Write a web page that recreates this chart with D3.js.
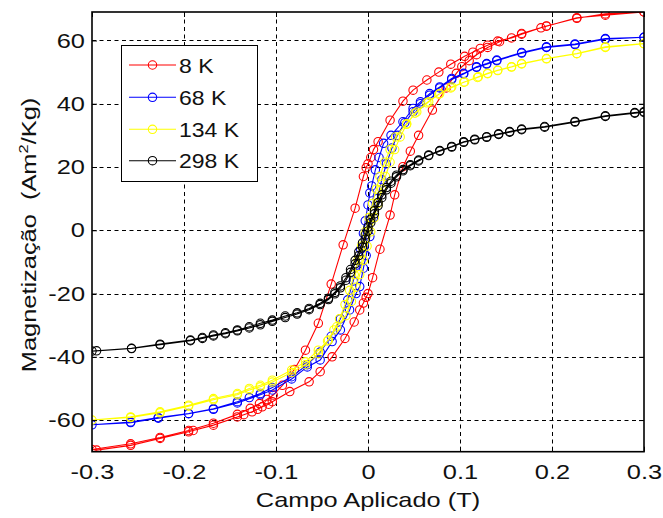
<!DOCTYPE html>
<html><head><meta charset="utf-8">
<script src="https://cdn.jsdelivr.net/npm/d3@7"></script>
<style>
body{margin:0;background:#fff}
svg text{font-family:"Liberation Sans",Arial,Helvetica,sans-serif;fill:#111}
</style>
</head><body>
<svg id="chart" width="663" height="518"></svg>
<script>
// ---- data ----
const seriesNames = ["8 K", "68 K", "134 K", "298 K"];
const seriesColors = ["#ff0000", "#0000ff", "#ffff00", "#000000"];

// 8 K : descending branch (+0.3 -> -0.3) then ascending branch (-0.3 -> +0.3)
const h8K = [0.300,0.258,0.227,0.194,0.188,0.167,0.156,0.141,0.130,0.122,0.114,0.105,0.090,0.077,0.064,0.049,0.038,0.024,0.011,0.006,0.003,0.000,-0.002,-0.005,-0.014,-0.027,-0.040,-0.054,-0.068,-0.080,-0.093,-0.103,-0.110,-0.118,-0.128,-0.142,-0.168,-0.195,-0.226,-0.258,-0.300,
  -0.295,-0.258,-0.226,-0.195,-0.190,-0.168,-0.142,-0.135,-0.126,-0.120,-0.115,-0.108,-0.104,-0.085,-0.064,-0.052,-0.039,-0.025,-0.015,-0.009,-0.005,-0.002,0.000,0.005,0.013,0.024,0.029,0.038,0.046,0.055,0.070,0.085,0.096,0.102,0.110,0.118,0.130,0.143,0.167,0.194,0.227,0.258,0.300];
const m8K = [69.0,68.0,67.2,64.5,64.0,62.0,60.8,59.8,58.5,57.5,56.3,55.0,52.5,50.0,47.5,44.3,40.8,34.8,28.0,25.5,23.0,21.0,19.8,17.0,7.0,-4.6,-17.0,-29.4,-37.9,-44.0,-49.0,-52.1,-53.5,-54.8,-56.3,-58.2,-61.0,-63.3,-65.5,-67.5,-69.3,
  -69.5,-68.0,-65.8,-63.7,-63.3,-61.6,-59.0,-58.3,-57.4,-56.6,-55.8,-55.0,-54.2,-51.0,-47.9,-44.7,-40.0,-34.2,-29.0,-25.2,-23.0,-21.2,-20.0,-15.0,-6.0,4.8,11.2,20.1,25.0,30.0,38.0,45.0,49.6,51.7,53.6,55.5,57.8,59.6,62.2,64.6,67.0,68.4,69.0];

// 68 K
const h68K = [0.300,0.258,0.225,0.194,0.167,0.140,0.129,0.118,0.104,0.091,0.078,0.067,0.057,0.049,0.038,0.025,0.017,0.012,0.008,0.004,0.002,0.000,-0.003,-0.005,-0.008,-0.012,-0.016,-0.022,-0.030,-0.040,-0.052,-0.066,-0.083,-0.104,-0.117,-0.129,-0.142,-0.168,-0.195,-0.228,-0.258,-0.300,
  -0.258,-0.228,-0.195,-0.168,-0.142,-0.117,-0.104,-0.083,-0.066,-0.052,-0.039,-0.030,-0.020,-0.013,-0.009,-0.005,-0.002,0.002,0.006,0.010,0.015,0.020,0.026,0.032,0.040,0.049,0.057,0.067,0.078,0.091,0.104,0.118,0.129,0.140,0.167,0.194,0.225,0.258,0.300];
const m68K = [61.0,60.6,58.9,58.0,56.2,53.8,52.7,51.7,49.6,48.0,45.3,43.2,40.6,38.5,34.3,30.0,27.5,23.0,19.1,14.0,11.8,8.0,3.0,-1.0,-6.0,-11.0,-16.0,-22.0,-28.0,-33.5,-38.5,-42.5,-46.3,-49.7,-51.6,-52.9,-54.2,-56.4,-57.9,-59.2,-60.6,-61.5,
  -60.8,-59.4,-58.0,-56.6,-54.6,-52.0,-50.5,-47.0,-43.2,-41.0,-35.2,-31.5,-25.2,-20.0,-17.8,-12.0,-8.0,-2.0,4.0,10.0,16.0,21.0,26.0,30.0,34.0,37.5,40.0,42.7,45.0,47.7,49.4,51.5,52.5,53.6,56.0,57.8,58.7,60.4,61.0];

// 134 K
const h134K = [0.300,0.258,0.227,0.194,0.167,0.156,0.141,0.130,0.120,0.105,0.091,0.078,0.066,0.053,0.042,0.030,0.024,0.018,0.013,0.009,0.005,0.001,-0.003,-0.007,-0.011,-0.015,-0.020,-0.025,-0.031,-0.037,-0.044,-0.054,-0.068,-0.083,-0.104,-0.117,-0.129,-0.142,-0.168,-0.195,-0.226,-0.258,-0.300,
  -0.258,-0.226,-0.195,-0.168,-0.142,-0.129,-0.117,-0.104,-0.083,-0.068,-0.054,-0.043,-0.034,-0.024,-0.018,-0.013,-0.009,-0.005,-0.001,0.003,0.007,0.011,0.015,0.019,0.024,0.029,0.035,0.042,0.051,0.064,0.077,0.090,0.104,0.119,0.130,0.141,0.156,0.167,0.194,0.227,0.258,0.300];
const m134K = [59.0,58.0,55.9,54.3,52.7,51.7,50.6,49.6,48.5,46.9,45.3,43.2,40.6,37.4,33.7,29.5,25.5,21.5,17.0,13.0,8.5,4.0,-0.5,-5.0,-9.5,-14.0,-19.0,-23.5,-28.0,-31.5,-35.0,-39.0,-42.5,-45.0,-48.0,-49.5,-50.5,-52.0,-53.6,-55.6,-57.7,-59.2,-60.0,
  -59.0,-57.4,-55.3,-53.2,-51.6,-50.0,-49.0,-47.4,-44.2,-41.6,-37.9,-34.7,-30.5,-27.0,-22.5,-18.0,-14.0,-9.5,-5.0,-0.5,4.0,8.5,13.0,17.0,21.5,25.5,29.5,33.5,37.0,40.3,43.0,45.0,46.8,48.3,49.5,50.5,51.6,52.6,54.2,55.8,57.8,59.0];

// 298 K
const h298K = [0.300,0.290,0.258,0.225,0.192,0.167,0.154,0.142,0.129,0.116,0.104,0.091,0.078,0.066,0.055,0.046,0.038,0.031,0.025,0.020,0.015,0.011,0.007,0.003,0.000,-0.003,-0.006,-0.010,-0.014,-0.019,-0.024,-0.030,-0.036,-0.043,-0.052,-0.064,-0.077,-0.090,-0.104,-0.117,-0.129,-0.142,-0.155,-0.168,-0.180,-0.193,-0.226,-0.257,-0.295,-0.300,
  -0.257,-0.226,-0.193,-0.180,-0.168,-0.155,-0.142,-0.129,-0.117,-0.104,-0.090,-0.077,-0.064,-0.052,-0.043,-0.036,-0.030,-0.024,-0.019,-0.014,-0.010,-0.006,-0.003,0.000,0.003,0.007,0.011,0.015,0.020,0.025,0.031,0.038,0.046,0.055,0.066,0.078,0.091,0.104,0.116,0.129,0.142,0.154,0.167,0.192,0.225,0.258,0.290,0.300];
const m298K = [37.5,37.2,36.2,34.4,32.8,32.0,31.2,30.5,29.6,28.8,28.0,26.5,25.2,23.8,22.2,20.7,19.2,17.4,15.5,13.5,11.2,8.8,6.2,3.5,1.0,-1.5,-4.0,-6.8,-9.5,-12.4,-15.0,-17.6,-19.6,-21.5,-23.1,-24.7,-26.1,-27.1,-28.4,-29.4,-30.5,-31.5,-32.4,-33.1,-33.9,-34.7,-36.0,-37.3,-38.1,-38.2,
  -37.4,-36.2,-34.9,-34.2,-33.4,-32.7,-31.8,-30.9,-29.9,-28.8,-27.6,-26.5,-25.1,-23.5,-21.9,-20.1,-18.2,-15.8,-13.3,-10.6,-8.0,-5.3,-2.8,-0.2,2.4,5.2,7.8,10.3,12.8,14.9,16.9,18.8,20.4,21.9,23.6,25.0,26.3,27.8,28.6,29.4,30.3,31.0,31.8,32.6,34.2,36.0,37.0,37.3];

const xTicks = [-0.3, -0.2, -0.1, 0, 0.1, 0.2, 0.3];
const xTickLabels = ["-0.3", "-0.2", "-0.1", "0", "0.1", "0.2", "0.3"];
const yTicks = [-60, -40, -20, 0, 20, 40, 60];
const yTickLabels = ["-60", "-40", "-20", "0", "20", "40", "60"];
const xLabel = "Campo Aplicado (T)";

// ---- drawing ----
const hs = [h8K, h68K, h134K, h298K];
const ms = [m8K, m68K, m134K, m298K];
const series = seriesNames.map((n, i) => ({
  name: n, color: seriesColors[i],
  pts: hs[i].map((h, j) => ({h: h, m: ms[i][j]}))
}));

const L = 92, R = 644, T = 12, B = 451.7;
const x = d3.scaleLinear().domain([-0.3, 0.3]).range([L, R]);
const y = d3.scaleLinear().domain([-70, 69]).range([B, T]);
const SX = 1.27, SY = 1.05; // wide glyphs of the reference

const svg = d3.select("#chart");
svg.append("rect").attr("width", 663).attr("height", 518).attr("fill", "#fff");

svg.append("defs").append("clipPath").attr("id", "clip")
  .append("rect").attr("x", L).attr("y", T).attr("width", R - L).attr("height", B - T);

// grid
const grid = svg.append("g").attr("stroke", "#000").attr("stroke-width", 1).attr("stroke-dasharray", "4,3.5");
grid.selectAll(".gx").data(xTicks.slice(1, -1)).enter().append("line")
  .attr("x1", d => Math.round(x(d)) + 0.5).attr("x2", d => Math.round(x(d)) + 0.5)
  .attr("y1", T).attr("y2", B);
grid.selectAll(".gy").data(yTicks).enter().append("line")
  .attr("y1", d => Math.round(y(d)) + 0.5).attr("y2", d => Math.round(y(d)) + 0.5)
  .attr("x1", L).attr("x2", R);

// series
const line = d3.line().x(d => x(d.h)).y(d => y(d.m));
const plot = svg.append("g").attr("clip-path", "url(#clip)");
series.forEach(s => {
  const g = plot.append("g");
  g.append("path").datum(s.pts).attr("d", line)
    .attr("fill", "none").attr("stroke", s.color).attr("stroke-width", 1.1);
  g.selectAll("circle").data(s.pts).enter().append("circle")
    .attr("cx", d => x(d.h)).attr("cy", d => y(d.m)).attr("r", 4.2)
    .attr("fill", "none").attr("stroke", s.color).attr("stroke-width", 1.1);
});

// axes
const fmtX = d => xTickLabels[xTicks.indexOf(d)];
const fmtY = d => yTickLabels[yTicks.indexOf(d)];
const axB = svg.append("g").attr("transform", `translate(0,${B})`)
  .call(d3.axisBottom(x).tickValues(xTicks).tickFormat(fmtX).tickSizeInner(-5).tickSizeOuter(0).tickPadding(12));
const axL = svg.append("g").attr("transform", `translate(${L},0)`)
  .call(d3.axisLeft(y).tickValues(yTicks).tickFormat(fmtY).tickSizeInner(-5).tickSizeOuter(0).tickPadding(7));
const axT = svg.append("g").attr("transform", `translate(0,${T})`)
  .call(d3.axisTop(x).tickValues(xTicks).tickFormat("").tickSizeInner(-5).tickSizeOuter(0));
const axR = svg.append("g").attr("transform", `translate(${R},0)`)
  .call(d3.axisRight(y).tickValues(yTicks).tickFormat("").tickSizeInner(-5).tickSizeOuter(0));
[axB, axL, axT, axR].forEach(a => {
  a.select(".domain").remove();
  a.selectAll("line").attr("stroke", "#000");
  a.selectAll("text").attr("font-size", 20).attr("fill", "#111")
    .style("font-family", '"Liberation Sans",Arial,sans-serif')
    .attr("transform", `scale(${SX},${SY})`);
});
axL.selectAll("text").attr("x", -7 / SX);

svg.append("rect").attr("x", L).attr("y", T).attr("width", R - L).attr("height", B - T)
  .attr("fill", "none").attr("stroke", "#000").attr("stroke-width", 1.6);

// axis labels
svg.append("text").attr("transform", `translate(${(L + R) / 2},507) scale(${SX},${SY})`)
  .attr("text-anchor", "middle").attr("font-size", 20).text(xLabel);
const yl = svg.append("text").attr("transform", `translate(36,235) rotate(-90) scale(${SX},${SY})`)
  .attr("text-anchor", "middle").attr("font-size", 20).style("white-space", "pre");
yl.append("tspan").text("Magnetização  (Am");
yl.append("tspan").attr("dy", -8).attr("font-size", 13).text("2");
yl.append("tspan").attr("dy", 8).text("/Kg)");

// legend
const lg = svg.append("g");
lg.append("rect").attr("x", 121.5).attr("y", 45.5).attr("width", 136).attr("height", 136)
  .attr("fill", "#fff").attr("stroke", "#000").attr("stroke-width", 1);
const rowY = [65, 97.3, 129.3, 160.7];
series.forEach((s, i) => {
  lg.append("line").attr("x1", 129).attr("x2", 176).attr("y1", rowY[i]).attr("y2", rowY[i])
    .attr("stroke", s.color).attr("stroke-width", 1.1);
  lg.append("circle").attr("cx", 152.5).attr("cy", rowY[i]).attr("r", 4.2)
    .attr("fill", "none").attr("stroke", s.color).attr("stroke-width", 1.1);
  lg.append("text").attr("transform", `translate(179,${rowY[i]}) scale(1.15,${SY})`).attr("dy", "0.36em")
    .attr("font-size", 20).text(s.name);
});
</script>
</body></html>
